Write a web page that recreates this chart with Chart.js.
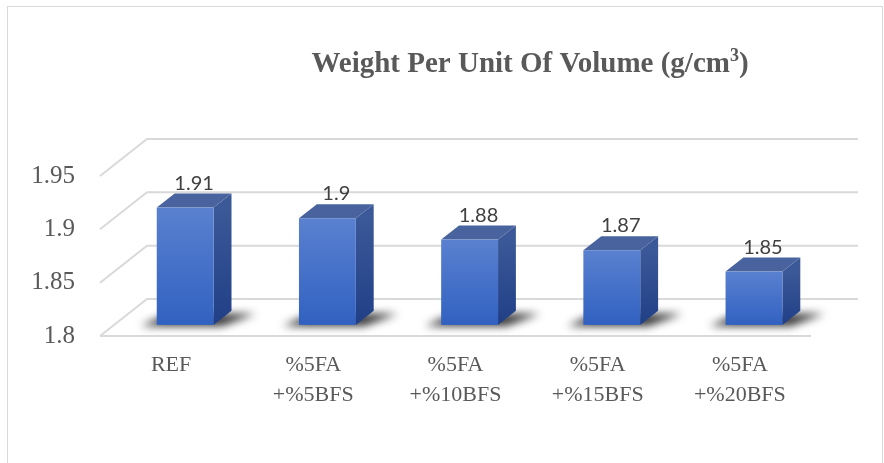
<!DOCTYPE html>
<html>
<head>
<meta charset="utf-8">
<script src="https://cdn.jsdelivr.net/npm/chart.js@4.4.1/dist/chart.umd.min.js"></script>
<style>
    html, body { margin: 0; padding: 0; background: #fff; }
    #wrap { width: 884px; height: 463px; }
</style>
</head>
<body>
<div id="wrap"><canvas id="weightChart"></canvas></div>
<script>
// chart data
const categories = [["REF"], ["%5FA", "+%5BFS"], ["%5FA", "+%10BFS"], ["%5FA", "+%15BFS"], ["%5FA", "+%20BFS"]];
const values = [1.91, 1.9, 1.88, 1.87, 1.85];
const yTicks = [1.8, 1.85, 1.9, 1.95];
const titleMain = "Weight Per Unit Of Volume (g/cm";
const titleSup = "3";
const titleEnd = ")";

// fake 3D: depth vector of the floor, bar placed between FRONT and BACK along it
const DX = 47, DY = -37;
const FRONT = 0.3, BACK = 0.68;

const scene3d = {
    id: "scene3d",
    beforeDraw(chart) {
        const ctx = chart.ctx;
        ctx.save();
        ctx.strokeStyle = "#d9d9d9";
        ctx.lineWidth = 1;
        ctx.strokeRect(7.5, 6.5, 875, 500);
        ctx.restore();
    },
    beforeDatasetsDraw(chart) {
        const { ctx, chartArea: a, scales: { y } } = chart;
        ctx.save();
        ctx.strokeStyle = "#d9d9d9";
        ctx.lineWidth = 2;
        yTicks.forEach(v => {
            const py = y.getPixelForValue(v);
            ctx.beginPath();
            ctx.moveTo(a.left, py);
            ctx.lineTo(a.left + DX, py + DY);
            ctx.lineTo(a.right + DX, py + DY);
            ctx.stroke();
        });
        // front edge of the floor
        ctx.beginPath();
        ctx.moveTo(a.left, a.bottom);
        ctx.lineTo(a.right, a.bottom);
        ctx.stroke();
        ctx.restore();
    },
    afterDatasetsDraw(chart) {
        const ctx = chart.ctx;
        const y = chart.scales.y;
        const meta = chart.getDatasetMeta(0);
        const floor = y.getPixelForValue(y.min);
        const fx = DX * FRONT, fy = DY * FRONT;
        const bx = DX * (BACK - FRONT), by = DY * (BACK - FRONT);

        meta.data.forEach((el, i) => {
            const half = el.width / 2;
            const L = el.x - half + fx, R = el.x + half + fx;
            const T = y.getPixelForValue(values[i]) + fy, B = floor + fy;

            // shadow on the floor
            ctx.save();
            ctx.filter = "blur(4px)";
            ctx.fillStyle = "rgba(0,0,0,0.8)";
            ctx.beginPath();
            ctx.moveTo(L - 16, B + 1);
            ctx.lineTo(R + 8, B + 1);
            ctx.lineTo(R + bx + 24, B + by + 3);
            ctx.lineTo(L + bx - 6, B + by + 3);
            ctx.closePath();
            ctx.fill();
            ctx.restore();

            ctx.save();
            // side face
            let g = ctx.createLinearGradient(0, T, 0, B);
            g.addColorStop(0, "#3b5898");
            g.addColorStop(1, "#203f86");
            ctx.fillStyle = g;
            ctx.beginPath();
            ctx.moveTo(R, T);
            ctx.lineTo(R + bx, T + by);
            ctx.lineTo(R + bx, B + by);
            ctx.lineTo(R, B);
            ctx.closePath();
            ctx.fill();

            // top face
            ctx.fillStyle = "#49639e";
            ctx.beginPath();
            ctx.moveTo(L, T);
            ctx.lineTo(L + bx, T + by);
            ctx.lineTo(R + bx, T + by);
            ctx.lineTo(R, T);
            ctx.closePath();
            ctx.fill();

            // front face
            g = ctx.createLinearGradient(0, T, 0, B);
            g.addColorStop(0, "#5a81d0");
            g.addColorStop(1, "#3161c1");
            ctx.fillStyle = g;
            ctx.fillRect(L, T, R - L, B - T);

            // value label
            ctx.fillStyle = "#404040";
            ctx.font = "20px Lato";
            ctx.textAlign = "center";
            ctx.textBaseline = "alphabetic";
            ctx.fillText(String(values[i]), (L + R + bx) / 2, T + by - 4);
            ctx.restore();
        });
    },
    afterDraw(chart) {
        const ctx = chart.ctx;
        ctx.save();
        ctx.fillStyle = "#595959";
        ctx.textBaseline = "alphabetic";
        ctx.textAlign = "left";
        const mainFont = "bold 29px 'Liberation Serif'";
        const supFont = "bold 18px 'Liberation Serif'";
        ctx.font = mainFont;
        const w1 = ctx.measureText(titleMain).width;
        const w3 = ctx.measureText(titleEnd).width;
        ctx.font = supFont;
        const w2 = ctx.measureText(titleSup).width;
        let x = 530 - (w1 + w2 + w3) / 2;
        const base = 72;
        ctx.font = mainFont;
        ctx.fillText(titleMain, x, base);
        x += w1;
        ctx.font = supFont;
        ctx.fillText(titleSup, x, base - 11);
        x += w2;
        ctx.font = mainFont;
        ctx.fillText(titleEnd, x, base);
        ctx.restore();
    }
};

const ctx = document.getElementById("weightChart").getContext("2d");

new Chart(ctx, {
    type: "bar",
    data: {
        labels: categories,
        datasets: [{
            label: "Weight Per Unit Of Volume",
            data: values,
            backgroundColor: "rgba(0,0,0,0)",
            borderWidth: 0,
            categoryPercentage: 1,
            barPercentage: 0.4
        }]
    },
    options: {
        responsive: true,
        maintainAspectRatio: false,
        animation: false,
        layout: { padding: { top: 176, right: 73, bottom: 0, left: 0 } },
        plugins: {
            legend: { display: false },
            tooltip: { enabled: false },
            title: { display: false }
        },
        scales: {
            x: {
                grid: { display: false, drawTicks: false },
                border: { display: false },
                ticks: {
                    color: "#595959",
                    padding: 14,
                    maxRotation: 0,
                    font: { family: "'Liberation Serif'", size: 22, lineHeight: 1.36 }
                },
                afterFit: s => { s.height = 127; }
            },
            y: {
                min: 1.8,
                max: 1.95,
                grid: { display: false, drawTicks: false },
                border: { display: false },
                ticks: {
                    color: "#595959",
                    padding: 25,
                    font: { family: "'Liberation Serif'", size: 25 },
                    callback: v => String(Number(v.toFixed(2)))
                },
                afterBuildTicks: s => { s.ticks = yTicks.map(v => ({ value: v })); },
                afterFit: s => { s.width = 100; }
            }
        }
    },
    plugins: [scene3d]
});
</script>
</body>
</html>
